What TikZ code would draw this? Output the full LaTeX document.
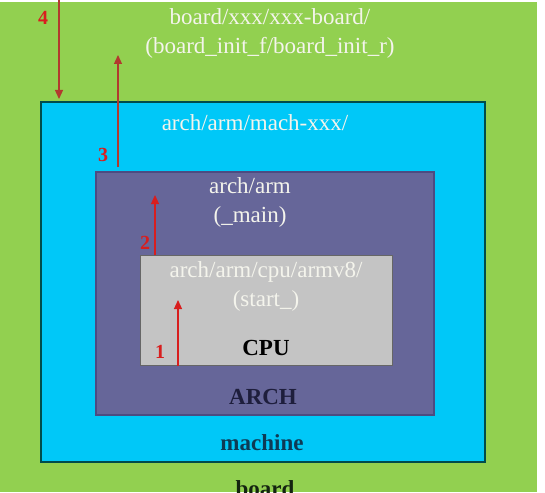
\documentclass[tikz,border=0pt]{standalone}
\usepackage{fontspec}
\setmainfont{Liberation Serif}
\usetikzlibrary{calc, arrows.meta}

\definecolor{boardgreen}{HTML}{92D050}
\definecolor{machcyan}{HTML}{00C8F8}
\definecolor{archpurple}{HTML}{666699}
\definecolor{cpugrey}{HTML}{C4C4C4}
\definecolor{pathwhite}{HTML}{F4F4EC}
\definecolor{stepred}{HTML}{D81E1E}
\definecolor{stepbrown}{HTML}{B23A2E}
\definecolor{machnavy}{HTML}{0E3A55}
\definecolor{archnavy}{HTML}{1E1E3C}
\definecolor{boarddark}{HTML}{142410}

\tikzset{
  layer/.style = {draw, line width=1.5pt, anchor=north west, inner sep=0pt},
  pathtext/.style = {text=pathwhite, align=center, font=\fontsize{23}{29}\selectfont},
  nametext/.style = {font=\bfseries\fontsize{23}{26}\selectfont},
  steparrow/.style = {line width=1.2pt, -{Triangle[width=8pt,length=9pt]}},
  steplabel/.style = {font=\bfseries\fontsize{20}{24}\selectfont, text=stepred}
}

\begin{document}
\begin{tikzpicture}[x=1pt, y=-1pt]
    \def\machW{444}
    \def\machH{360}
    \def\archW{338}
    \def\archH{243}
    \def\cpuW{252}
    \def\cpuH{110}

    \useasboundingbox (0,0) rectangle (545,492);
    \fill[white] (0,0) rectangle (545,492);
    \fill[boardgreen] (0,2) rectangle (537,492);

    %nested layers
    \node[layer, draw=black!40!teal, fill=machcyan, minimum width=\machW, minimum height=\machH] (machine) at (40,101) {};
    \node[layer, draw=blue!30!black!70, fill=archpurple, minimum width=\archW, minimum height=\archH] (arch) at (95,171) {};
    \node[layer, draw=black!60, line width=1.2pt, fill=cpugrey, minimum width=\cpuW, minimum height=\cpuH] (cpu) at (140,255) {};

    %path labels
    \node[pathtext] (boardpath) at (270,33) {board/xxx/xxx-board/\\(board\_init\_f/board\_init\_r)};
    \node[pathtext] (machpath) at (255,123) {arch/arm/mach-xxx/};
    \node[pathtext] (archpath) at (250,202) {arch/arm\\(\_main)};
    \node[pathtext] (cpupath) at (266,286) {arch/arm/cpu/armv8/\\(start\_)};

    %layer names
    \node[nametext, text=black] (cpuname) at (266,348) {CPU};
    \node[nametext, text=archnavy] (archname) at (263,397) {ARCH};
    \node[nametext, text=machnavy] (machname) at (262,443) {machine};
    \node[nametext, text=boarddark, anchor=base] (boardname) at (265,496) {board};

    %call steps
    \coordinate (s4) at (59,0);
    \coordinate (s3) at (118,55);
    \coordinate (s2) at (155,195);
    \coordinate (s1) at (178,300);
    \draw[steparrow, stepbrown] (s4) -- ($(s4 |- machine.north)+(0,-2)$);
    \draw[steparrow, stepbrown] ($(arch.north -| s3)+(0,-4)$) -- (s3);
    \draw[steparrow, stepred] (cpu.north -| s2) -- (s2);
    \draw[steparrow, stepred] (cpu.south -| s1) -- (s1);

    \node[steplabel] (n4) at (43,18) {4};
    \node[steplabel] (n3) at (103,155) {3};
    \node[steplabel] (n2) at (145,243) {2};
    \node[steplabel] (n1) at (160,352) {1};
\end{tikzpicture}
\end{document}
